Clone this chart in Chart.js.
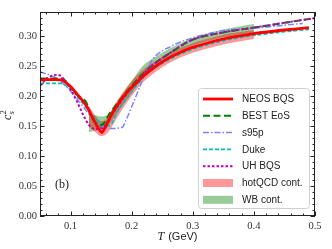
<!DOCTYPE html>
<html><head><meta charset="utf-8">
<script src="https://cdn.jsdelivr.net/npm/chart.js@4.4.0/dist/chart.umd.min.js"></script>
<style>html,body{margin:0;padding:0;background:#fff}</style>
</head><body>
<canvas id="c" width="332" height="249" style="width:332px;height:249px;display:block"></canvas>
<script>
// ---- data ----
const T_neos   = [0.05,0.085,0.10,0.115,0.127,0.137,0.145,0.151,0.158,0.168,0.18,0.19,0.20,0.22,0.24,0.26,0.28,0.30,0.35,0.40,0.45,0.49];
const cs2_neos = [0.227,0.227,0.216,0.198,0.182,0.162,0.147,0.139,0.150,0.171,0.190,0.203,0.214,0.234,0.250,0.263,0.273,0.281,0.295,0.304,0.310,0.314];

const T_best   = [0.05,0.084,0.095,0.105,0.116,0.126,0.132,0.14,0.148,0.155,0.162,0.172,0.181,0.19,0.20,0.22,0.24,0.26,0.28,0.30,0.35,0.40,0.45,0.50];
const cs2_best = [0.229,0.229,0.222,0.208,0.197,0.189,0.170,0.157,0.151,0.155,0.168,0.182,0.194,0.205,0.217,0.239,0.256,0.270,0.283,0.294,0.306,0.314,0.322,0.330];

const T_s95p   = [0.05,0.06,0.07,0.08,0.09,0.10,0.11,0.12,0.13,0.14,0.15,0.16,0.17,0.185,0.19,0.20,0.21,0.222,0.235,0.25,0.263,0.28,0.30,0.35,0.40,0.45,0.48];
const cs2_s95p = [0.240,0.237,0.233,0.227,0.219,0.208,0.196,0.183,0.170,0.158,0.150,0.147,0.146,0.148,0.158,0.182,0.207,0.237,0.262,0.275,0.282,0.290,0.297,0.309,0.313,0.318,0.321];

const T_duke   = [0.05,0.083,0.10,0.12,0.137,0.15,0.16,0.168,0.176,0.185,0.195,0.21,0.22,0.24,0.26,0.28,0.30,0.35,0.40,0.45,0.49];
const cs2_duke = [0.221,0.221,0.211,0.188,0.166,0.155,0.150,0.155,0.172,0.186,0.200,0.220,0.232,0.248,0.260,0.270,0.278,0.292,0.301,0.307,0.311];

const T_uh     = [0.05,0.06,0.07,0.08,0.09,0.10,0.11,0.12,0.13,0.14,0.15,0.16,0.17,0.18,0.19,0.20,0.22,0.24,0.26,0.28,0.30,0.35,0.40,0.45,0.50];
const cs2_uh   = [0.217,0.228,0.234,0.235,0.227,0.211,0.192,0.170,0.152,0.145,0.146,0.156,0.172,0.187,0.201,0.214,0.238,0.256,0.270,0.283,0.294,0.306,0.314,0.322,0.330];

const T_band   = [0.13,0.14,0.15,0.16,0.17,0.18,0.20,0.22,0.24,0.26,0.28,0.30,0.33,0.36,0.40];
const hot_lo   = [0.150,0.140,0.133,0.138,0.153,0.170,0.200,0.224,0.241,0.254,0.264,0.272,0.281,0.288,0.295];
const hot_hi   = [0.183,0.168,0.158,0.163,0.182,0.198,0.225,0.245,0.259,0.271,0.280,0.288,0.297,0.304,0.310];
const wb_lo    = [0.140,0.142,0.145,0.150,0.162,0.177,0.205,0.232,0.250,0.264,0.275,0.284,0.293,0.300,0.306];
const wb_hi    = [0.170,0.168,0.166,0.168,0.180,0.196,0.225,0.252,0.266,0.278,0.288,0.297,0.306,0.313,0.320];

const xTicks = [0.1,0.2,0.3,0.4,0.5];
const yTicks = [0.00,0.05,0.10,0.15,0.20,0.25,0.30];

const pts = (xs, ys) => xs.map((x,i)=>({x, y: ys[i]}));

const lineDS = (label, xs, ys, color, width, dash, extra) => Object.assign({
  label, data: pts(xs, ys), borderColor: color, backgroundColor: color,
  borderWidth: width, borderDash: dash, pointRadius: 0, fill: false,
  cubicInterpolationMode: 'monotone', order: 1
}, extra || {});

const datasets = [
  lineDS('NEOS BQS', T_neos, cs2_neos, '#ff0000', 2.8, [], {cubicInterpolationMode:'default', tension:0.15, order:1}),
  lineDS('BEST EoS', T_best, cs2_best, '#008000', 2.0, [7,3.5], {order:2}),
  lineDS('s95p', T_s95p, cs2_s95p, '#8080ff', 1.5, [6,2,1.5,2], {order:3}),
  lineDS('Duke', T_duke, cs2_duke, '#00bfbf', 1.6, [4,2], {order:2}),
  lineDS('UH BQS', T_uh, cs2_uh, '#bf00bf', 2.0, [2.5,2], {order:1}),
  {label:'hotQCD lo', data: pts(T_band, hot_lo), borderWidth:0, pointRadius:0, fill:false, order:10, cubicInterpolationMode:'monotone'},
  {label:'hotQCD cont.', data: pts(T_band, hot_hi), borderWidth:0, pointRadius:0, fill:'-1', backgroundColor:'rgba(255,0,0,0.4)', order:10, cubicInterpolationMode:'monotone'},
  {label:'WB lo', data: pts(T_band, wb_lo), borderWidth:0, pointRadius:0, fill:false, order:11, cubicInterpolationMode:'monotone'},
  {label:'WB cont.', data: pts(T_band, wb_hi), borderWidth:0, pointRadius:0, fill:'-1', backgroundColor:'rgba(0,128,0,0.4)', order:11, cubicInterpolationMode:'monotone'}
];

const legendItems = [0,1,2,3,4,6,8];

const serif = '"Liberation Serif", "DejaVu Serif", serif';
const sans = '"Liberation Sans", "DejaVu Sans", sans-serif';

const decor = {
  id: 'decor',
  afterDraw(chart){
    const {ctx, chartArea:a, scales:{x, y}} = chart;
    ctx.save();
    // frame
    ctx.strokeStyle = '#222'; ctx.lineWidth = 1;
    ctx.strokeRect(Math.round(a.left)+0.5, Math.round(a.top)+0.5, Math.round(a.right-a.left)-1, Math.round(a.bottom-a.top)-1);
    // ticks (inward, all sides)
    ctx.beginPath();
    for (let k=3; k<=25; k++){
      const v = k*0.02;
      if (v < x.min-1e-9 || v > x.max+1e-9) continue;
      const major = Math.abs(v*10 - Math.round(v*10)) < 1e-6;
      const L = major ? 4.5 : 2.5;
      const p = Math.round(x.getPixelForValue(v)) + 0.5;
      ctx.moveTo(p, a.bottom); ctx.lineTo(p, a.bottom - L);
      ctx.moveTo(p, a.top); ctx.lineTo(p, a.top + L);
    }
    for (let k=0; k<=34; k++){
      const v = k*0.01;
      const major = k % 5 === 0;
      const L = major ? 4.5 : 2.5;
      const p = Math.round(y.getPixelForValue(v)) + 0.5;
      ctx.moveTo(a.left, p); ctx.lineTo(a.left + L, p);
      ctx.moveTo(a.right, p); ctx.lineTo(a.right - L, p);
    }
    ctx.stroke();

    // axis titles
    ctx.fillStyle = '#222';
    ctx.textBaseline = 'alphabetic';
    ctx.font = 'italic 12px ' + serif;
    const tW = ctx.measureText('T').width;
    ctx.font = '11px ' + sans;
    const gW = ctx.measureText('(GeV)').width;
    const total = tW + 4 + gW;
    let cx = (a.left + a.right)/2 - total/2;
    ctx.font = 'italic 12px ' + serif;
    ctx.fillText('T', cx, 240);
    ctx.font = '11px ' + sans;
    ctx.fillText('(GeV)', cx + tW + 4, 240);

    ctx.save();
    ctx.translate(11, (a.top + a.bottom)/2 + 6);
    ctx.rotate(-Math.PI/2);
    ctx.font = 'italic 12px ' + serif;
    ctx.fillText('c', 0, 0);
    const cW = ctx.measureText('c').width;
    ctx.font = 'italic 8px ' + serif;
    ctx.fillText('s', cW + 0.5, 3);
    ctx.font = '8px ' + serif;
    ctx.fillText('2', cW + 0.5, -5);
    ctx.restore();

    // panel label
    ctx.font = '12px ' + serif;
    ctx.fillText('(b)', 55, 188);

    // legend
    const bx = 198, by = 88, bw = 111, bh = 120;
    ctx.beginPath();
    ctx.roundRect(bx+0.5, by+0.5, bw, bh, 3);
    ctx.fillStyle = 'rgba(255,255,255,0.85)';
    ctx.fill();
    ctx.strokeStyle = '#d0d0d0'; ctx.lineWidth = 1;
    ctx.stroke();
    ctx.font = '10px ' + sans;
    ctx.textBaseline = 'middle';
    legendItems.forEach((di, i) => {
      const ds = chart.data.datasets[di];
      const yy = 99 + i*16.8;
      if (ds.fill === '-1'){
        ctx.fillStyle = ds.backgroundColor;
        ctx.fillRect(203, yy - 4, 30, 8);
      } else {
        ctx.save();
        ctx.strokeStyle = ds.borderColor;
        ctx.lineWidth = ds.borderWidth;
        ctx.setLineDash(ds.borderDash || []);
        ctx.beginPath(); ctx.moveTo(203, yy); ctx.lineTo(233, yy); ctx.stroke();
        ctx.restore();
      }
      ctx.fillStyle = '#222';
      ctx.fillText(ds.label, 242, yy + 0.5);
    });
    ctx.restore();
  }
};

new Chart(document.getElementById('c'), {
  type: 'line',
  data: { datasets },
  options: {
    responsive: false, animation: false,
    layout: { padding: { top: 12, right: 17, left: 0, bottom: 0 } },
    plugins: { legend: { display: false }, tooltip: { enabled: false } },
    scales: {
      x: {
        type: 'linear', min: 0.05, max: 0.5,
        afterBuildTicks: s => { s.ticks = xTicks.map(v => ({value: v})); },
        afterFit: s => { s.height = 33; },
        grid: { display: false, drawTicks: false },
        border: { display: false },
        ticks: { padding: 4, color: '#333', font: { family: serif, size: 10.5 }, maxRotation: 0,
                 callback: v => v.toFixed(1) }
      },
      y: {
        type: 'linear', min: 0, max: 0.34,
        afterBuildTicks: s => { s.ticks = yTicks.map(v => ({value: v})); },
        afterFit: s => { s.width = 40; },
        grid: { display: false, drawTicks: false },
        border: { display: false },
        ticks: { padding: 3, color: '#333', font: { family: serif, size: 10.5 },
                 callback: v => v.toFixed(2) }
      }
    }
  },
  plugins: [decor]
});
</script>
</body></html>
